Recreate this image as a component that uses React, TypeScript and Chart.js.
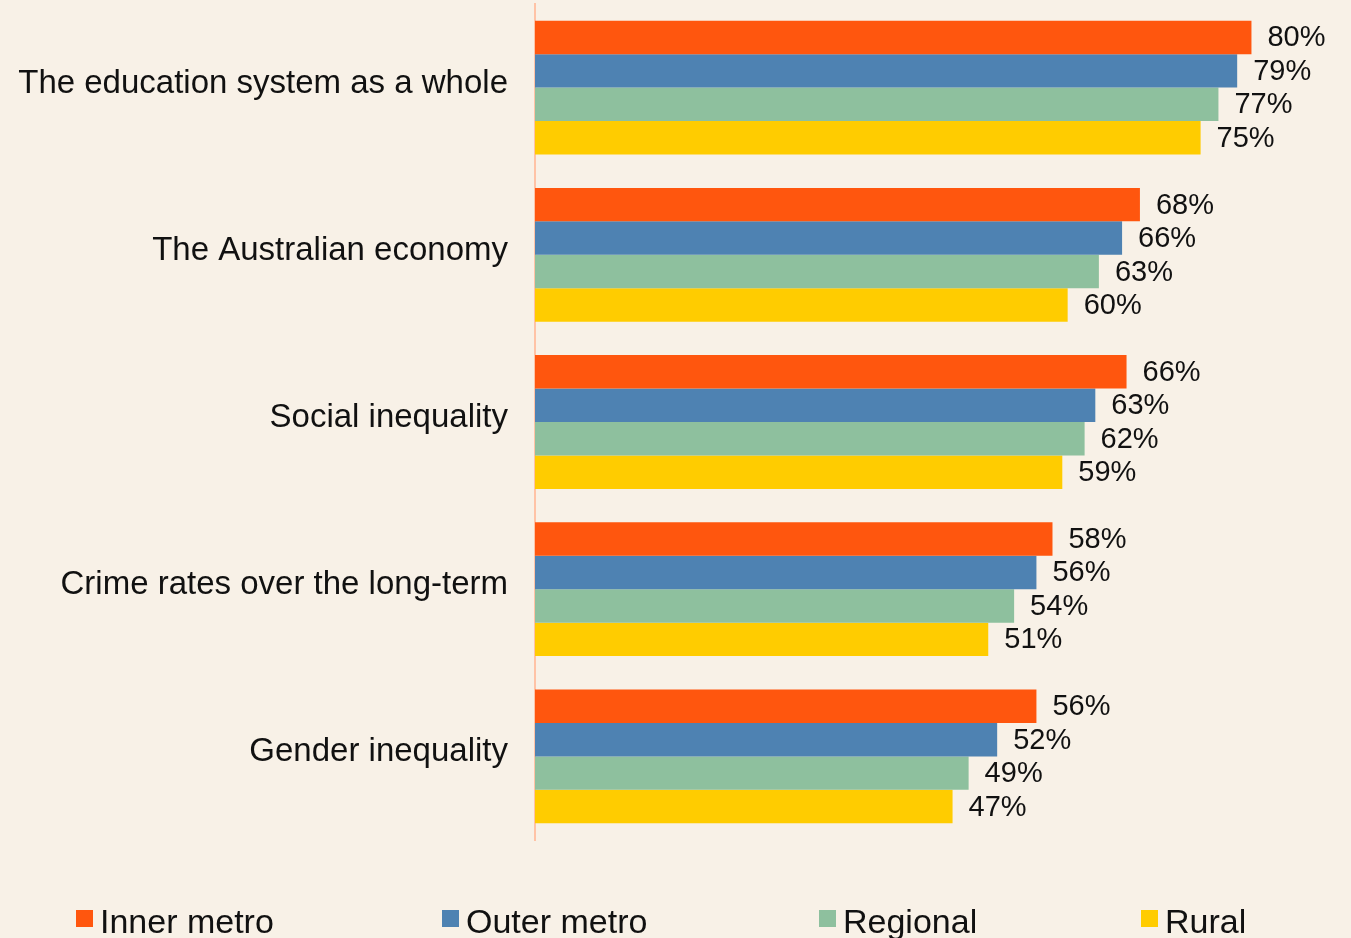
import React, { useEffect, useRef } from "react";
import { Chart, registerables } from "chart.js";

Chart.register(...registerables);

const categories = [
  "The education system as a whole",
  "The Australian economy",
  "Social inequality",
  "Crime rates over the long-term",
  "Gender inequality",
];
const seriesNames = ["Inner metro", "Outer metro", "Regional", "Rural"];
const innerMetro = [80.3, 67.8, 66.3, 58.0, 56.2];
const outerMetro = [78.7, 65.8, 62.8, 56.2, 51.8];
const regional = [76.6, 63.2, 61.6, 53.7, 48.6];
const rural = [74.6, 59.7, 59.1, 50.8, 46.8];
const colors = ["#FF560E", "#4E82B2", "#8EC09E", "#FFCC00"];

const BG = "#F8F1E7";
const FONT = "'Liberation Sans', Arial, sans-serif";

const valueLabels = {
  id: "valueLabels",
  afterDatasetsDraw(chart: any) {
    const ctx = chart.ctx;
    ctx.save();
    ctx.font = `29px ${FONT}`;
    ctx.fillStyle = "#111111";
    ctx.textAlign = "left";
    ctx.textBaseline = "middle";
    chart.data.datasets.forEach((ds: any, i: number) => {
      const meta = chart.getDatasetMeta(i);
      meta.data.forEach((bar: any, j: number) => {
        const v = ds.data[j] as number;
        ctx.fillText(`${Math.round(v)}%`, bar.x + 16, bar.y + 1);
      });
    });
    ctx.restore();
  },
};

export default function App() {
  const ref = useRef<HTMLCanvasElement>(null);
  useEffect(() => {
    document.body.style.margin = "0";
    document.body.style.background = BG;
    const chart = new Chart(ref.current!, {
      type: "bar",
      data: {
        labels: categories,
        datasets: [innerMetro, outerMetro, regional, rural].map((d, i) => ({
          label: seriesNames[i],
          data: d,
          backgroundColor: colors[i],
          borderWidth: 0,
          categoryPercentage: 0.8,
          barPercentage: 1.0,
        })),
      },
      options: {
        indexAxis: "y",
        animation: false,
        responsive: false,
        maintainAspectRatio: false,
        layout: { padding: { top: 4, bottom: 98, left: 0, right: 13 } },
        plugins: {
          legend: { display: false },
          tooltip: { enabled: false },
        },
        scales: {
          x: {
            display: false,
            min: 0,
            max: 90,
          },
          y: {
            grid: { display: false, drawTicks: false },
            border: { display: true, color: "#FFC3A6", width: 2 },
            ticks: {
              color: "#111111",
              font: { family: FONT, size: 33 },
              padding: 27,
              labelOffset: -4,
            },
            afterFit(scale: any) {
              scale.width = 535;
              scale.paddingTop = 0;
              scale.paddingBottom = 0;
            },
          },
        },
      },
      plugins: [valueLabels],
    });
    return () => chart.destroy();
  }, []);

  const legendX = [76, 442, 819, 1141];
  return (
    <div style={{ position: "relative", width: 1351, height: 938, background: BG, overflow: "hidden" }}>
      <canvas ref={ref} width={1351} height={938} style={{ display: "block" }} />
      {seriesNames.map((n, i) => (
        <div
          key={n}
          style={{
            position: "absolute",
            left: legendX[i],
            top: 904,
            display: "flex",
            alignItems: "flex-start",
            fontFamily: FONT,
            fontSize: 34,
            lineHeight: "34px",
            color: "#111111",
            whiteSpace: "nowrap",
          }}
        >
          <span style={{ display: "inline-block", width: 17, height: 17, background: colors[i], marginTop: 6, marginRight: 7 }} />
          <span>{n}</span>
        </div>
      ))}
    </div>
  );
}
